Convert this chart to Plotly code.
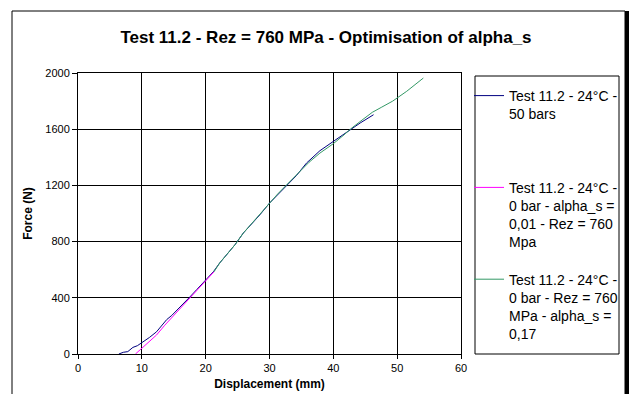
import plotly.graph_objects as go

# ---- data ----
blue_x = [6.4, 7.1, 7.8, 8.6, 9.3, 10.1, 11.2, 12.3, 13.1, 13.9, 14.7, 15.4, 16.5, 17.5,
          18.6, 19.6, 20.4, 21.2, 22.2, 23.4, 24.6, 25.9, 27.2, 28.5, 30.0, 31.4, 32.7,
          34.2, 35.8, 37.9, 40.0, 42.6, 44.2, 46.3]
blue_y = [0, 12, 17, 47, 59, 83, 118, 158, 200, 245, 275, 306, 357, 405,
          458, 505, 545, 585, 648, 713, 778, 861, 925, 991, 1074, 1140, 1205,
          1269, 1359, 1447, 1513, 1596, 1644, 1703]

mag_x = [9.0, 10.1, 11.2, 12.3, 13.6, 14.9, 16.2, 17.5, 18.7, 19.8, 21.3]
mag_y = [0, 45, 90, 135, 205, 270, 335, 400, 460, 515, 585]

green_x = [21.3, 22.2, 23.4, 24.6, 25.9, 27.4, 28.7, 30.0, 31.3, 32.7, 34.8, 36.2,
           37.9, 40.0, 41.5, 42.9, 44.5, 46.1, 47.5, 49.3, 51.5, 54.1]
green_y = [585, 648, 713, 778, 861, 940, 1010, 1074, 1140, 1205, 1300, 1365,
           1430, 1497, 1553, 1609, 1665, 1720, 1755, 1800, 1870, 1964]

names = [
    "Test 11.2 - 24°C -<br>50 bars<br> <br> ",
    "Test 11.2 - 24°C -<br>0 bar - alpha_s =<br>0,01 - Rez = 760<br>Mpa",
    "Test 11.2 - 24°C -<br>0 bar - Rez = 760<br>MPa - alpha_s =<br>0,17",
]
colors = ["#000080", "#FF00FF", "#339966"]

x_ticks = [0, 10, 20, 30, 40, 50, 60]
y_ticks = [0, 400, 800, 1200, 1600, 2000]

FONT = "Liberation Sans, Arial, sans-serif"

fig = go.Figure()
for i, (xs, ys) in enumerate([(blue_x, blue_y), (mag_x, mag_y), (green_x, green_y)]):
    fig.add_trace(go.Scatter(x=xs, y=ys, mode="lines", name=names[i],
                             legendgroup=f"g{i}",
                             line=dict(color=colors[i], width=1)))

L, R, T, B = 78, 168, 73, 40
PW, PH = 629 - L - R, 394 - T - B


def px(x):
    return (x - L) / PW


def py(y):
    return (394 - B - y) / PH


fig.update_layout(
    width=629, height=394,
    margin=dict(l=L, r=R, t=T, b=B, autoexpand=False),
    paper_bgcolor="white", plot_bgcolor="white",
    font=dict(family=FONT, color="black", size=11),
    title=dict(text="<b>Test 11.2 - Rez = 760 MPa - Optimisation of alpha_s</b>",
               x=326 / 629, xanchor="center", y=1 - 37 / 394, yanchor="middle",
               font=dict(size=17, family=FONT)),
    showlegend=True,
    legend=dict(x=px(469), xanchor="left", y=py(80), yanchor="top",
                borderwidth=0, bgcolor="rgba(0,0,0,0)",
                font=dict(size=14, family=FONT), valign="top",
                tracegroupgap=16, itemwidth=30),
    xaxis=dict(range=[0, 60], tickvals=x_ticks, showgrid=True, gridcolor="black",
               gridwidth=1, showline=True, linecolor="black", linewidth=1, mirror=True,
               ticks="outside", ticklen=4, tickcolor="black", zeroline=False,
               title=dict(text="<b>Displacement (mm)</b>", font=dict(size=12), standoff=6),
               tickfont=dict(size=11)),
    yaxis=dict(range=[0, 2000], tickvals=y_ticks, showgrid=True, gridcolor="black",
               gridwidth=1, showline=True, linecolor="black", linewidth=1, mirror=True,
               ticks="outside", ticklen=5, tickcolor="black", zeroline=False,
               title=dict(text="<b>Force (N)</b>", font=dict(size=12), standoff=10),
               tickfont=dict(size=11)),
)

# legend frame
fig.add_shape(type="rect", xref="paper", yref="paper",
              x0=px(475), x1=px(619), y0=py(354), y1=py(76),
              line=dict(color="black", width=1), fillcolor="rgba(0,0,0,0)")
# outer chart-area frame
fig.add_shape(type="rect", xref="paper", yref="paper",
              x0=px(12), x1=px(625), y0=py(400), y1=py(11),
              line=dict(color="black", width=1), layer="below")
fig.add_shape(type="line", xref="paper", yref="paper",
              x0=px(627), x1=px(627), y0=py(400), y1=py(11),
              line=dict(color="black", width=4))

fig.write_html("out.html")
